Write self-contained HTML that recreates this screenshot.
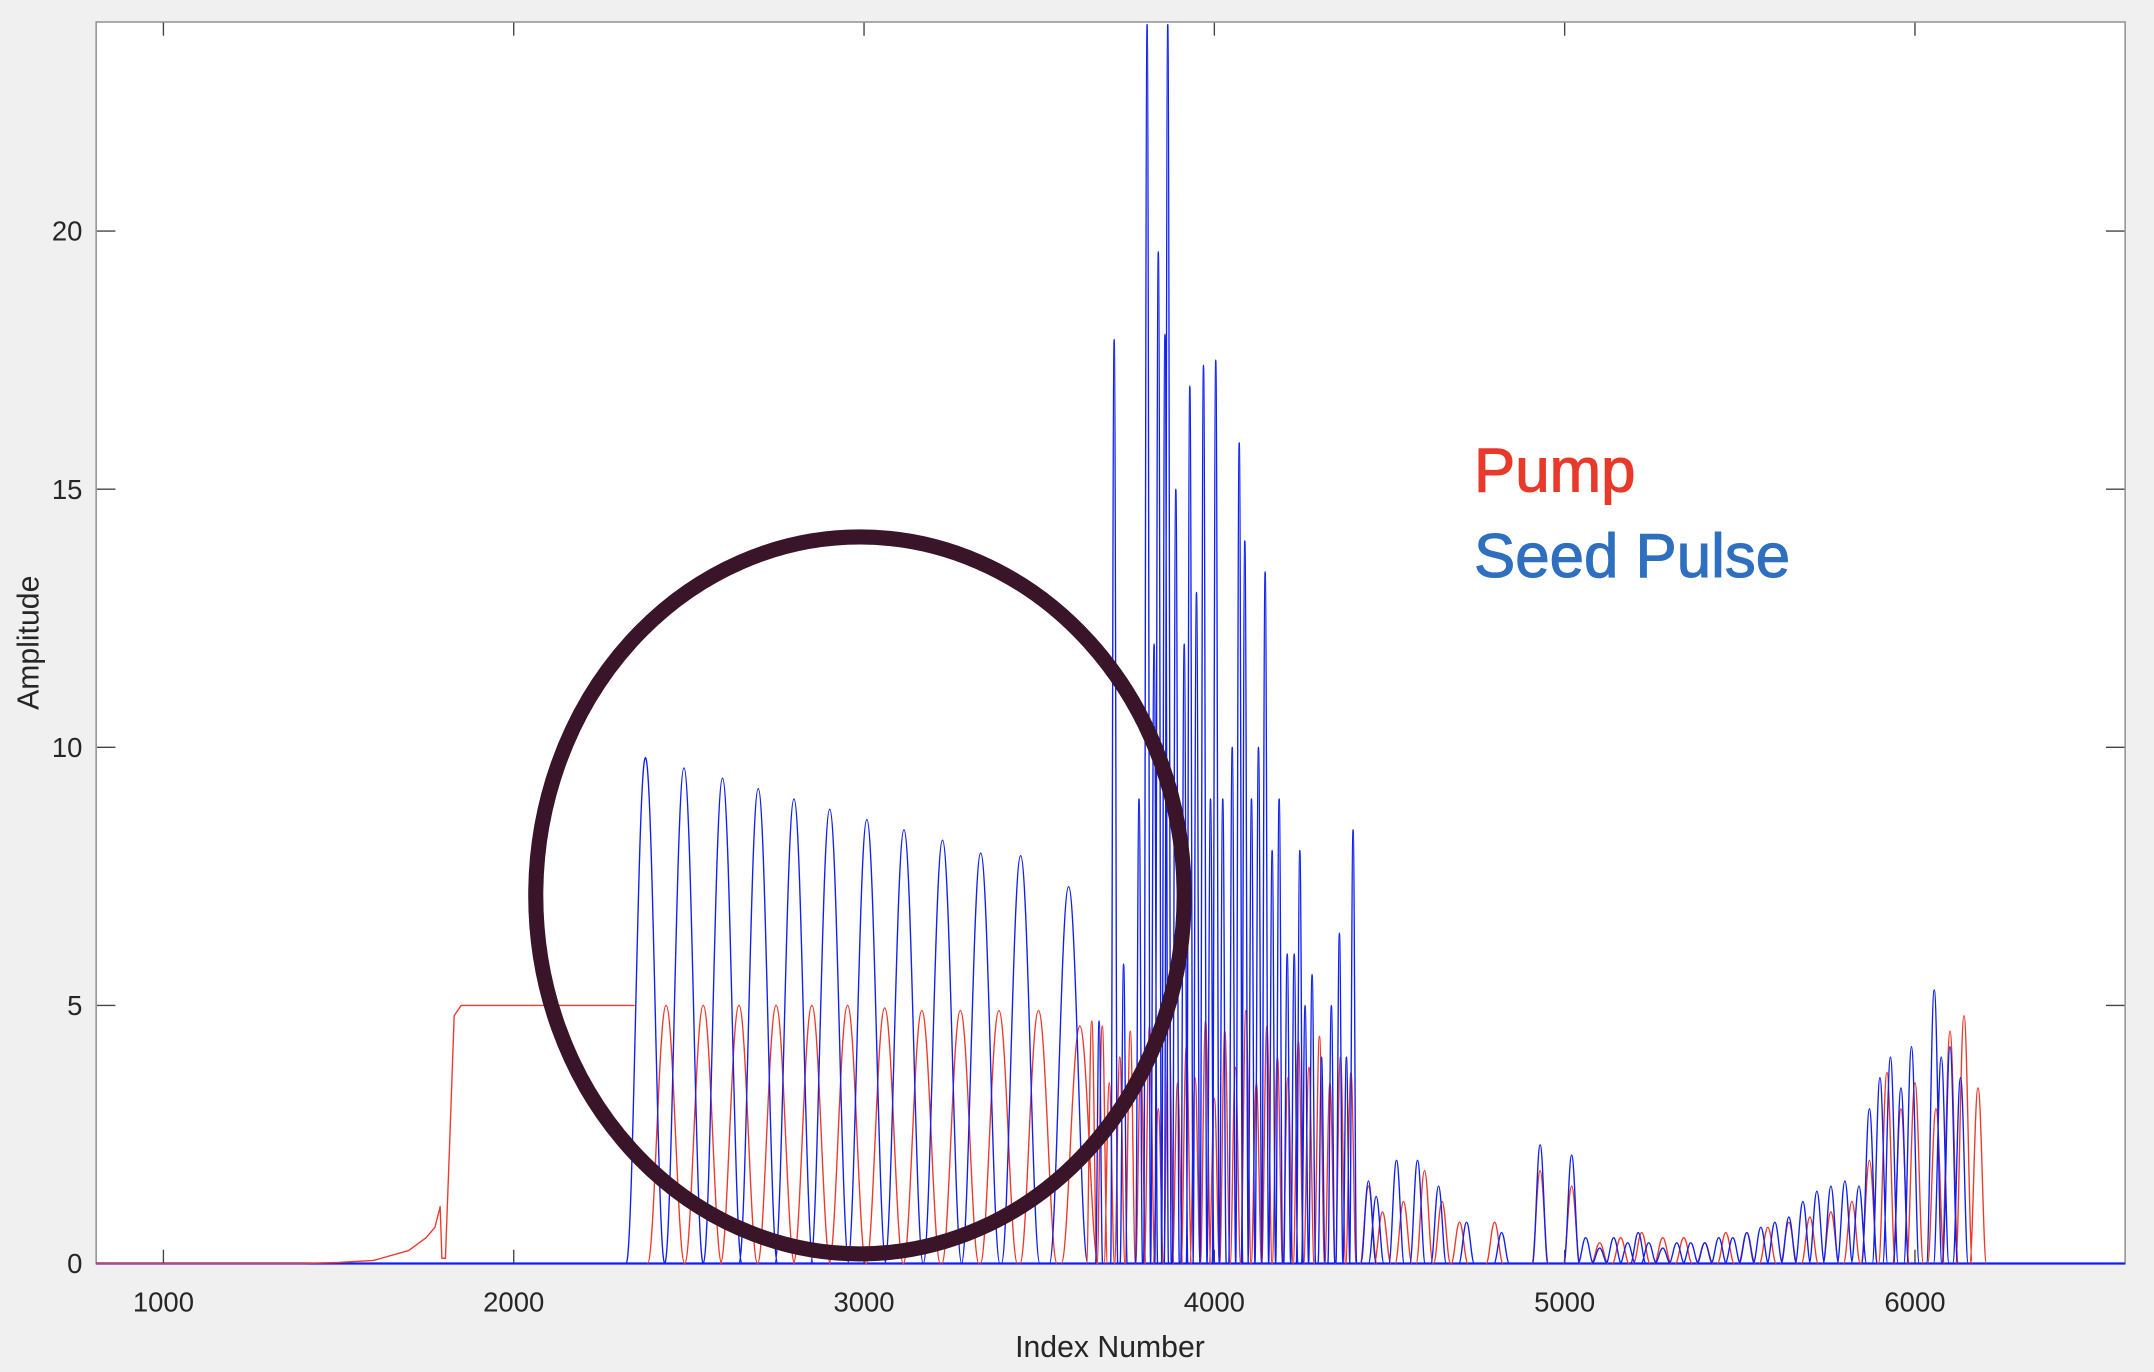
<!DOCTYPE html>
<html><head><meta charset="utf-8"><style>
html,body{margin:0;padding:0;background:#f0f0f0;}
svg{display:block;}
text{font-family:"Liberation Sans",sans-serif;}
</style></head><body>
<svg id="chart" width="2154" height="1372" viewBox="0 0 1568 999" preserveAspectRatio="none" xmlns="http://www.w3.org/2000/svg">
<rect x="0" y="0" width="1568" height="999" fill="#f0f0f0"/>
<rect x="70" y="16" width="1477" height="904" fill="#fff"/>
<g id="axes"></g>
<g id="series"></g>
<ellipse cx="626" cy="652" rx="236" ry="261" fill="none" stroke="#3a1428" stroke-width="11"/>
<text x="1073" y="358" font-size="45" fill="#e8392a" stroke="#e8392a" stroke-width="0.8">Pump</text>
<text x="1073" y="420" font-size="45" fill="#2f6fbf" stroke="#2f6fbf" stroke-width="0.8">Seed Pulse</text>
<text x="808" y="988" font-size="22" text-anchor="middle" fill="#262626">Index Number</text>
<text x="0" y="0" font-size="22" text-anchor="middle" fill="#262626" transform="translate(28,468) rotate(-90)">Amplitude</text>
</svg>
<script>
const xTicks=[1000,2000,3000,4000,5000,6000];
const yTicks=[0,5,10,15,20];
const redRamp=[[808,0],[1400,0],[1500,0.02],[1600,0.06],[1700,0.25],[1750,0.5],[1775,0.7],[1790,1.1],[1795,0.1],[1805,0.1],[1818,2.5],[1830,4.8],[1850,5],[2345,5]];
const redLeadPeaks=[[2435,5],[2541,5],[2643,5],[2749,5],[2851,5],[2953,5],[3059,4.95],[3165,4.9],[3275,4.9],[3385,4.9],[3498,4.9],[3616,4.6]];
const blueLeadPeaks=[[2376,9.8],[2486,9.6],[2596,9.4],[2698,9.2],[2800,9.0],[2902,8.8],[3008,8.6],[3114,8.4],[3224,8.2],[3333,7.95],[3447,7.9],[3584,7.3]];
const blueMidPeaks=[[3671,4.7],[3714,17.9],[3741,5.8],[3785,9],[3808,24],[3828,12],[3840,19.6],[3859,18],[3867,24],[3890,15],[3914,12],[3930,17],[3949,13],[3969,17.4],[3989,9],[4004,17.5],[4024,9],[4051,10],[4071,15.9],[4087,14],[4106,9],[4126,10],[4145,13.4],[4165,8],[4185,9],[4208,6],[4228,6],[4244,8],[4259,5],[4279,5.6],[4306,4],[4334,5],[4357,6.4],[4377,4],[4396,8.4]];
const redMidPeaks=[[3650,4.7],[3680,4.6],[3700,3.5],[3730,4],[3760,4.5],[3790,3.8],[3815,4.6],[3840,3],[3870,4.8],[3895,3.5],[3920,4.2],[3945,3.6],[3975,4.7],[4000,3.2],[4030,4.5],[4060,3.8],[4090,4.9],[4120,3.5],[4150,4.6],[4180,4],[4210,3.6],[4240,4.3],[4270,3.8],[4300,4.4],[4330,3.5],[4360,4.0],[4390,3.7]];
const blueTailPeaks=[[4440,1.6],[4462,1.3],[4520,2.0],[4580,2.0],[4640,1.5],[4720,0.8],[4820,0.6],[4930,2.3],[5020,2.1],[5060,0.5],[5100,0.3],[5140,0.5],[5180,0.4],[5210,0.6],[5240,0.4],[5280,0.3],[5320,0.4],[5360,0.4],[5400,0.4],[5440,0.5],[5480,0.5],[5520,0.6],[5560,0.7],[5600,0.8],[5640,0.9],[5680,1.2],[5720,1.4],[5760,1.5],[5800,1.6],[5840,1.5],[5870,3.0],[5900,3.6],[5930,4.0],[5960,3.4],[5990,4.2],[6055,5.3],[6075,4.0],[6100,4.2],[6130,3.6]];
const redTailPeaks=[[4440,1.5],[4480,1.0],[4540,1.2],[4600,1.8],[4650,1.2],[4700,0.8],[4800,0.8],[4930,1.8],[5020,1.5],[5100,0.4],[5160,0.5],[5220,0.6],[5280,0.5],[5340,0.5],[5400,0.4],[5460,0.6],[5520,0.6],[5580,0.7],[5640,0.8],[5700,0.9],[5760,1.0],[5820,1.2],[5870,2.0],[5920,3.7],[5960,3.0],[6000,3.5],[6060,3.0],[6100,4.5],[6140,4.8],[6180,3.4]];

const X0=70,X1=1547,Y0=920,Y1=16,XMIN=808,XMAX=6600,YMIN=0,YMAX=24.05;
function xs(v){return X0+(v-XMIN)/(XMAX-XMIN)*(X1-X0);}
function ys(v){return Y0-(v-YMIN)/(YMAX-YMIN)*(Y0-Y1);}
const NS="http://www.w3.org/2000/svg";
const axes=document.getElementById('axes'),series=document.getElementById('series');
function mk(tag,attrs,parent){const e=document.createElementNS(NS,tag);for(const k in attrs)e.setAttribute(k,attrs[k]);parent.appendChild(e);return e;}

xTicks.forEach(t=>{
  const x=xs(t);
  const a=mk('line',{x1:x,y1:Y0,x2:x,y2:Y0-10,stroke:'#444','stroke-width':1},axes);
  
  
  const b=mk('line',{x1:x,y1:Y1,x2:x,y2:Y1+10,stroke:'#444','stroke-width':1},axes);
  
  
  const l=mk('text',{x:x,y:955,'font-size':20,'text-anchor':'middle',fill:'#262626'},axes);
  l.textContent=t;
  
  
});
yTicks.forEach(t=>{
  const y=ys(t);
  const a=mk('line',{x1:X0,y1:y,x2:X0+14,y2:y,stroke:'#444','stroke-width':1},axes);
  
  
  const b=mk('line',{x1:X1,y1:y,x2:X1-14,y2:y,stroke:'#444','stroke-width':1},axes);
  
  
  const l=mk('text',{x:X0-10,y:y+7,'font-size':20,'text-anchor':'end',fill:'#262626'},axes);
  l.textContent=t;
  
  
});
const frame=mk('rect',{x:X0,y:Y1,width:X1-X0,height:Y0-Y1,fill:'none',stroke:'#999','stroke-width':1.2},axes);



function peaksPath(peaks,w){
  let d='';
  peaks.forEach(p=>{
    const x=p[0],h=p[1];
    d+=`M${xs(x-w)},${ys(0)} C${xs(x-w*0.62)},${ys(0)} ${xs(x-w*0.4)},${ys(h)} ${xs(x)},${ys(h)} C${xs(x+w*0.4)},${ys(h)} ${xs(x+w*0.62)},${ys(0)} ${xs(x+w)},${ys(0)} `;
  });
  return d;
}
function addPath(d,color,name,sw){
  const p=mk('path',{d:d,fill:'none',stroke:color,'stroke-width':sw||1,'stroke-linejoin':'round'},series);
  
  
}
const RED='#ee3a2c',BLUE='#1020f0';
addPath(`M${xs(XMIN)},${ys(0)} L${xs(XMAX)},${ys(0)}`,BLUE,'baseline-seed',1.6);
let rd='M'+redRamp.map(p=>xs(p[0])+','+ys(p[1])).join(' L');
addPath(rd,RED,'pump-plateau',1);
addPath(peaksPath(redLeadPeaks,53),RED,'pump-lead-oscillation',1);
addPath(peaksPath(blueLeadPeaks,55),BLUE,'seed-lead-oscillation',1);
addPath(peaksPath(redMidPeaks,15),RED,'pump-mid-oscillation',1);
addPath(peaksPath(blueMidPeaks,10),BLUE,'seed-mid-spikes',1);
addPath(peaksPath(redTailPeaks,24),RED,'pump-tail-oscillation',1);
addPath(peaksPath(blueTailPeaks,22),BLUE,'seed-tail-oscillation',1);
</script>
</body></html>
